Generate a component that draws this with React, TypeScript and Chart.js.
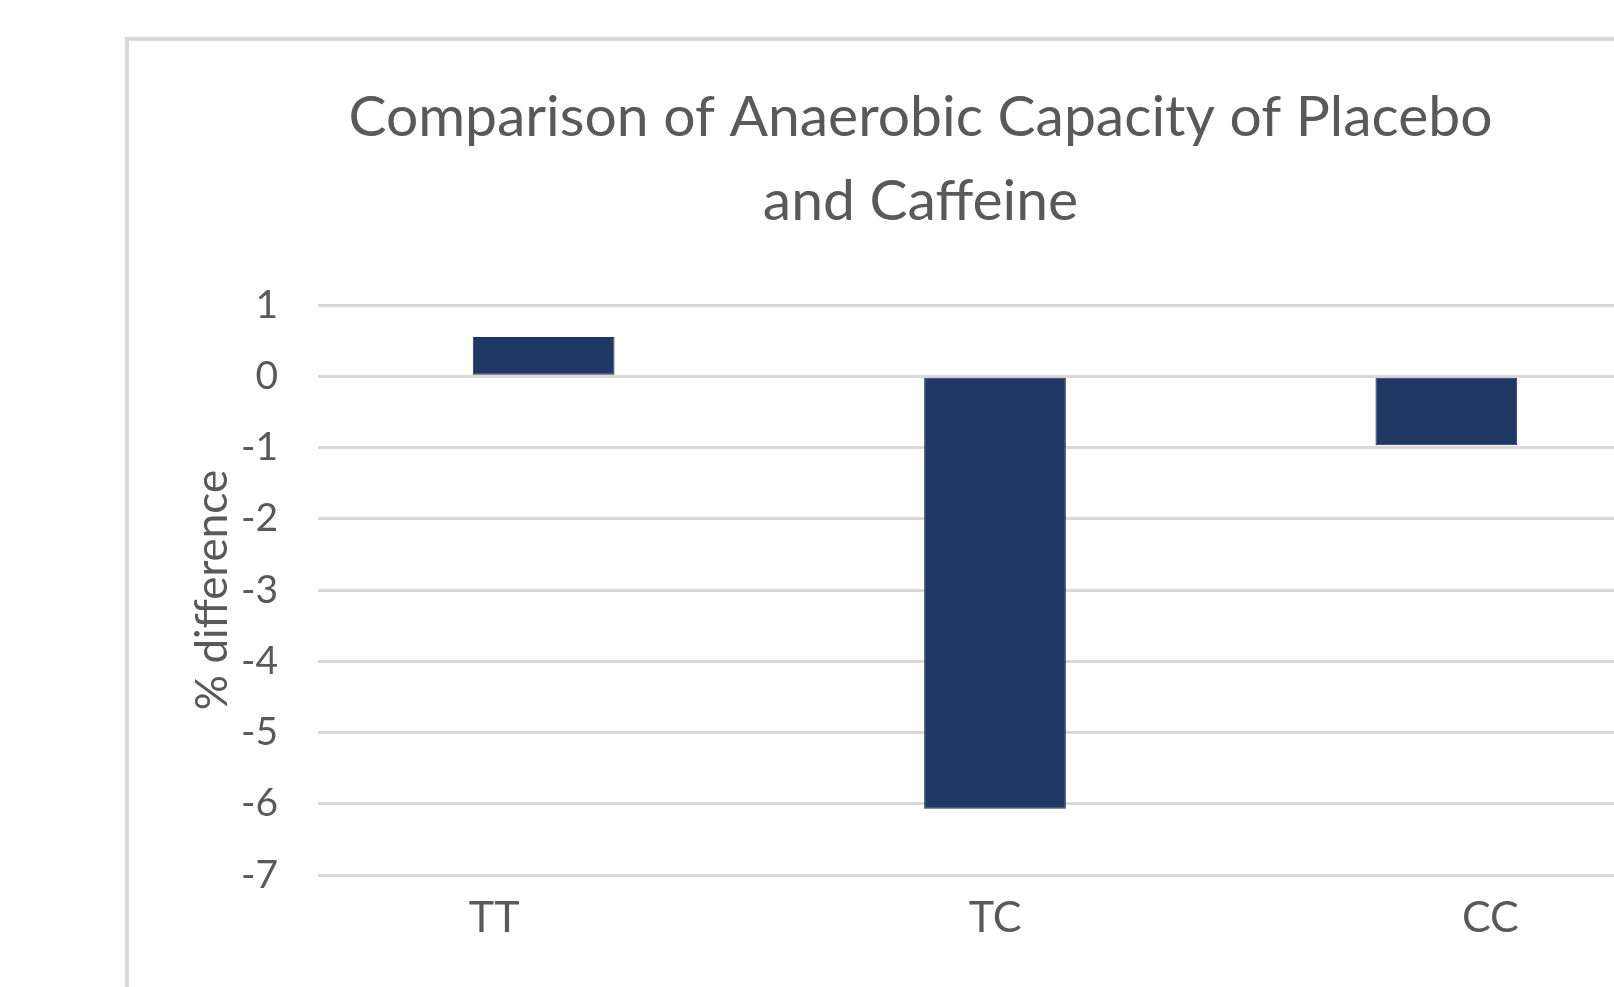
import React, { useEffect, useRef } from "react";
import { Chart, registerables } from "chart.js";

Chart.register(...registerables);

const categories = ["TT", "TC", "CC"];
const differenceValues = [0.55, -6.07, -0.97];
const titleLines = ["Comparison of Anaerobic Capacity of Placebo", "and Caffeine"];
const yAxisTitle = "% difference";
const yMin = -7;
const yMax = 1;
const yStep = 1;

// horizontal nudge of each category label (in spaces), matching the reference's label placement
const labelLeadSpaces = [0, 0, 8];
const labelTrailSpaces = [9, 0, 0];

const FONT = "Lato, 'Open Sans', sans-serif";
const TEXT = "#595959";

export default function App() {
  const ref = useRef<HTMLCanvasElement | null>(null);

  useEffect(() => {
    if (!ref.current) return;
    const chart = new Chart(ref.current, {
      type: "bar",
      data: {
        labels: categories,
        datasets: [
          {
            label: yAxisTitle,
            data: differenceValues,
            backgroundColor: "#203864",
            borderColor: "#1c3259",
            borderWidth: 1,
            borderSkipped: false,
            categoryPercentage: 1,
            barPercentage: 0.314,
          },
        ],
      },
      options: {
        responsive: false,
        animation: false,
        devicePixelRatio: 1,
        layout: { padding: { left: 40, right: 39, top: 0, bottom: 0 } },
        plugins: {
          legend: { display: false },
          tooltip: { enabled: false },
          title: {
            display: true,
            text: titleLines,
            color: TEXT,
            font: { family: FONT, size: 57, weight: "normal", lineHeight: "84px" },
            padding: { top: 35, bottom: 61 },
          },
        },
        scales: {
          x: {
            grid: { display: false, drawTicks: false },
            border: { display: false },
            ticks: {
              color: TEXT,
              font: { family: FONT, size: 43 },
              padding: 17,
              callback: function (this: any, _v: any, i: number) {
                return " ".repeat(labelLeadSpaces[i]) + categories[i] + " ".repeat(labelTrailSpaces[i]);
              },
            },
            afterFit: (s: any) => {
              s.height = 112;
            },
          },
          y: {
            min: yMin,
            max: yMax,
            grid: { color: "#d9d9d9", lineWidth: 3, drawTicks: false },
            border: { display: false },
            ticks: {
              stepSize: yStep,
              color: TEXT,
              font: { family: FONT, size: 39 },
              padding: 40,
            },
            title: {
              display: true,
              text: yAxisTitle,
              color: TEXT,
              font: { family: FONT, size: 44 },
              padding: { top: 17, bottom: 0 },
            },
            afterFit: (s: any) => {
              s.width = 149;
            },
          },
        },
      },
    });
    return () => chart.destroy();
  }, []);

  return (
    <div style={{ position: "fixed", left: 0, top: 0, width: "100vw", height: "100vh", overflow: "hidden", background: "#fff" }}>
      <div
        style={{
          position: "absolute",
          left: 125,
          top: 37,
          width: 1582,
          height: 1000,
          border: "4px solid #d9d9d9",
          background: "#fff",
        }}
      >
        <canvas ref={ref} width={1582} height={946} style={{ display: "block", width: 1582, height: 946 }} />
      </div>
    </div>
  );
}
